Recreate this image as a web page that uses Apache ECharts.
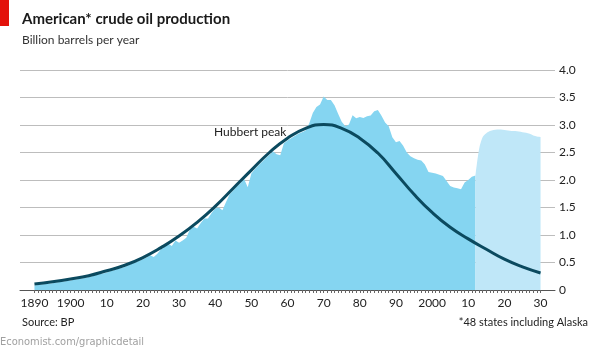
<!DOCTYPE html>
<html>
<head>
<meta charset="utf-8">
<script src="https://cdn.jsdelivr.net/npm/echarts@6/dist/echarts.min.js"></script>
<style>
  html, body { margin: 0; padding: 0; background: #fff; }
  #main { width: 595px; height: 353px; }
</style>
</head>
<body>
<div id="main"></div>
<script>
// actual production, billion barrels per year, one value per year 1890-2012
var actualStart = 1890;
var actualValues = [
  0.080, 0.090, 0.100, 0.110, 0.115, 0.125, 0.135, 0.145, 0.155, 0.165,
  0.175, 0.185, 0.195, 0.210, 0.220, 0.235, 0.250, 0.270, 0.285, 0.300,
  0.320, 0.340, 0.360, 0.380, 0.400, 0.420, 0.450, 0.480, 0.500, 0.530,
  0.560, 0.590, 0.630, 0.600, 0.660, 0.740, 0.780, 0.840, 0.800, 0.900,
  0.860, 0.900, 0.950, 1.100, 1.150, 1.120, 1.220, 1.300, 1.300, 1.400,
  1.480, 1.500, 1.450, 1.600, 1.740, 1.810, 1.880, 1.940, 2.020, 1.870,
  2.120, 2.200, 2.270, 2.330, 2.400, 2.460, 2.520, 2.470, 2.450, 2.670,
  2.720, 2.760, 2.800, 2.840, 2.870, 2.900, 3.028, 3.216, 3.329, 3.372,
  3.517, 3.454, 3.455, 3.361, 3.203, 3.057, 2.976, 3.009, 3.178, 3.121,
  3.146, 3.129, 3.157, 3.171, 3.250, 3.275, 3.168, 3.047, 2.979, 2.779,
  2.685, 2.707, 2.625, 2.499, 2.431, 2.394, 2.366, 2.355, 2.282, 2.147,
  2.131, 2.118, 2.097, 2.073, 1.983, 1.890, 1.862, 1.848, 1.830, 1.953,
  1.999, 2.061, 2.080
];

// forecast, one value per year 2012-2030
var forecastStart = 2012;
var forecastValues = [
  2.080, 2.560, 2.780, 2.850, 2.890, 2.910, 2.920, 2.920, 2.910, 2.900,
  2.890, 2.890, 2.880, 2.870, 2.860, 2.840, 2.810, 2.790, 2.780
];

// Hubbert curve, read every 5 years
var hubbertYears = [1890, 1895, 1900, 1905, 1910, 1915, 1920, 1925, 1930, 1935,
  1940, 1945, 1950, 1955, 1960, 1965, 1970, 1975, 1980, 1985,
  1990, 1995, 2000, 2005, 2010, 2015, 2020, 2025, 2030];
var hubbertValues = [0.11, 0.15, 0.20, 0.26, 0.35, 0.45, 0.59, 0.77, 0.98, 1.23,
  1.52, 1.85, 2.18, 2.50, 2.76, 2.94, 3.01, 2.94, 2.76, 2.49,
  2.12, 1.74, 1.41, 1.14, 0.93, 0.74, 0.56, 0.42, 0.31];

var xLabelYears = [1890, 1900, 1910, 1920, 1930, 1940, 1950, 1960, 1970, 1980, 1990, 2000, 2010, 2020, 2030];

var FONT = 'Lato, "Noto Sans", sans-serif';

var actualData = actualValues.map(function (v, i) { return [actualStart + i, v]; });
var forecastData = forecastValues.map(function (v, i) { return [forecastStart + i, v]; });
var hubbertData = hubbertValues.map(function (v, i) { return [hubbertYears[i], v]; });
var yearTicks = [];
for (var y = 1890; y <= 2030; y++) yearTicks.push(y);

var chart = echarts.init(document.getElementById('main'), null, { renderer: 'canvas' });
chart.setOption({
  animation: false,
  backgroundColor: '#fff',
  textStyle: { fontFamily: FONT },
  grid: { left: 20, right: 40, top: 70, bottom: 63 },
  xAxis: {
    type: 'value',
    min: 1886,
    max: 2034,
    axisLine: { show: true, lineStyle: { color: '#555', width: 1 } },
    axisTick: { show: true, customValues: yearTicks, length: 3, lineStyle: { color: '#666', width: 1 } },
    axisLabel: {
      customValues: xLabelYears,
      color: '#222',
      fontSize: 12,
      fontFamily: FONT,
      margin: 7,
      formatter: function (v) {
        if (v === 1890 || v === 1900 || v === 2000) return String(v);
        return String(v).slice(2);
      }
    },
    splitLine: { show: false }
  },
  yAxis: {
    type: 'value',
    position: 'right',
    min: 0,
    max: 4,
    interval: 0.5,
    axisLine: { show: false },
    axisTick: { show: false },
    axisLabel: {
      color: '#222',
      fontSize: 12,
      fontFamily: FONT,
      margin: 4,
      formatter: function (v) { return v === 0 ? '0' : v.toFixed(1); }
    },
    splitLine: { lineStyle: { color: '#bdbdbd', width: 1 } }
  },
  series: [
    {
      name: 'Actual',
      type: 'line',
      data: actualData,
      symbol: 'none',
      lineStyle: { width: 0 },
      areaStyle: { color: '#85d5f1', opacity: 1 },
      z: 2
    },
    {
      name: 'Forecast',
      type: 'line',
      data: forecastData,
      symbol: 'none',
      smooth: 0.3,
      lineStyle: { width: 0 },
      areaStyle: { color: '#bfe7f8', opacity: 1 },
      z: 2
    },
    {
      name: 'Hubbert peak',
      type: 'line',
      data: hubbertData,
      symbol: 'none',
      smooth: true,
      lineStyle: { color: '#0b4a5f', width: 3 },
      z: 5
    }
  ],
  graphic: [
    { type: 'rect', left: 0, top: 0, shape: { width: 9, height: 26 }, style: { fill: '#e3120b' } },
    { type: 'text', left: 22, top: 12, style: { text: 'American* crude oil production', font: 'bold 15px ' + FONT, fill: '#1a1a1a' } },
    { type: 'text', left: 22, top: 34, style: { text: 'Billion barrels per year', font: '12px ' + FONT, fill: '#333' } },
    { type: 'text', left: 214, top: 126, style: { text: 'Hubbert peak', font: '12px ' + FONT, fill: '#222' } },
    { type: 'text', left: 307, top: 210, style: { text: 'Actual', font: '12px ' + FONT, fill: '#222' } },
    { type: 'text', left: 485, top: 141, style: { text: 'FORECAST', font: 'italic 11px ' + FONT, fill: '#1f5b78' } },
    { type: 'text', left: 22, top: 317, style: { text: 'Source: BP', font: '11px ' + FONT, fill: '#222' } },
    { type: 'text', right: 7, top: 317, style: { text: '*48 states including Alaska', font: '11px ' + FONT, fill: '#222' } },
    { type: 'text', left: 0, top: 337, style: { text: 'Economist.com/graphicdetail', font: '11px "DejaVu Sans Condensed", ' + FONT, fill: '#a0a0a0' } }
  ]
});
</script>
</body>
</html>
